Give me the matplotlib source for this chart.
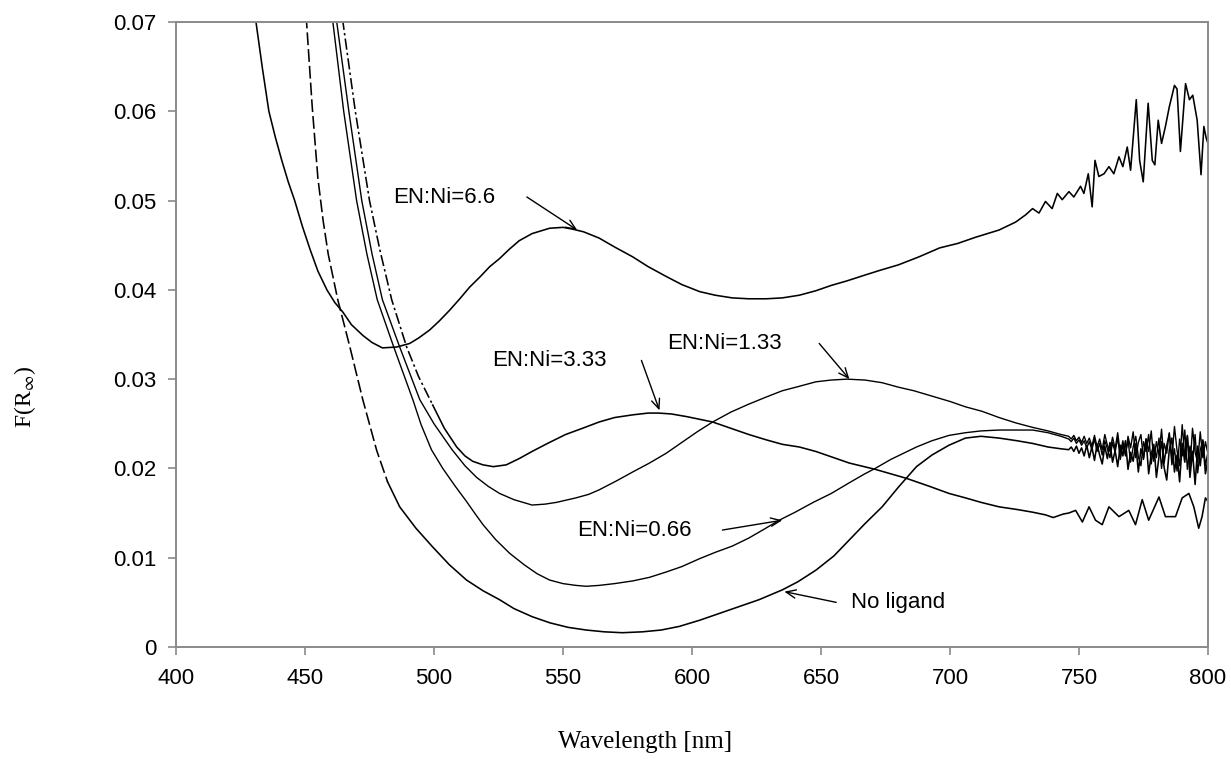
import numpy as np
import matplotlib
matplotlib.use("Agg")
import matplotlib.pyplot as plt

plt.rcParams['font.family'] = ['Liberation Sans', 'DejaVu Sans']
plt.rcParams['mathtext.fontset'] = 'stix'

# Kubelka-Munk spectra, F(R_inf) vs wavelength [nm]
wl_66 = [425, 431, 433.5, 436, 438.5, 441, 443.5, 446, 449, 452, 455, 458.5, 461.5, 464.7, 468,
         472.4, 476, 480, 485.6, 490.6, 494,
         498.3, 502, 506, 510, 513.8, 518, 521.6, 525.4, 529, 533, 538, 544.8, 550, 553.7, 558,
         564, 570, 577, 583, 590, 596, 603, 609, 615.6, 622, 628.8, 635, 641.6, 648, 654, 660,
         667.5, 673, 680, 688, 696, 703, 710, 719, 725.5, 729.3, 732, 734.5, 737, 739.6, 741.6,
         743.5, 746.1, 748, 750.6, 751.9, 753.6, 755.1, 756.2, 757.7, 759.7, 761.6, 763.5, 765.5,
         767, 768.7, 770, 772.2, 773.5, 774.9, 776.8, 778.4, 779.4, 780.7, 782, 783.5, 785, 787,
         788, 789.3, 791.3, 792.8, 794.1, 795.8, 797.3, 798.4, 799.3, 800]
f_66 = [0.080, 0.070, 0.0648, 0.060, 0.0571, 0.0545, 0.0521, 0.050, 0.0471, 0.0445, 0.0421,
        0.0400, 0.0386, 0.0375, 0.0361, 0.0349, 0.0341, 0.0335,
        0.0336, 0.0340, 0.0346, 0.0355, 0.0365, 0.0377, 0.0390, 0.0403, 0.0415, 0.0426, 0.0435,
        0.0445, 0.0455, 0.0463, 0.0469, 0.0470, 0.0468, 0.0465, 0.0458, 0.0448, 0.0437, 0.0426,
        0.0415, 0.0406, 0.0398, 0.0394, 0.0391, 0.0390, 0.0390, 0.0391, 0.0394, 0.0399, 0.0405,
        0.0410, 0.0417, 0.0422, 0.0428, 0.0437, 0.0447, 0.0452, 0.0459, 0.0467, 0.0476, 0.0484,
        0.0491, 0.0486, 0.0499, 0.0491, 0.0508, 0.0501, 0.0510, 0.0504, 0.0516, 0.0508, 0.0530,
        0.0493, 0.0545, 0.0527, 0.0530, 0.0538, 0.0530, 0.0549, 0.0538, 0.0560, 0.0534, 0.0613,
        0.0545, 0.0521, 0.0609, 0.0545, 0.0540, 0.0590, 0.0564, 0.0583, 0.0605, 0.0629, 0.0625,
        0.0555, 0.0631, 0.0613, 0.0618, 0.0590, 0.0529, 0.0583, 0.0570, 0.0564]

wl_333 = [460, 464.7, 469.5, 475, 479, 483.6, 489.4, 494, 499.5, 504, 508.8, 512, 515, 519, 523,
          528, 533, 538, 544, 551, 557.6, 564, 570, 577, 583, 587, 592, 598, 603, 608, 615, 622,
          628.8, 635, 641.6, 648, 654, 661, 671, 683, 692, 699.6, 706, 712, 719, 726, 732, 737,
          740, 744, 746, 748.7, 751.3, 753.9, 756.4, 759, 761.6, 765.5, 769.3, 771.9, 774.5, 777,
          781, 783.5, 787.4, 790, 792.6, 794.5, 796.4, 797.7, 799, 800]
f_333 = [0.080, 0.070, 0.060, 0.050, 0.0445, 0.0389, 0.0336, 0.0303, 0.0271, 0.0245, 0.0224,
         0.0214, 0.0208, 0.0204, 0.0202, 0.0204, 0.0211, 0.0219, 0.0228, 0.0238, 0.0245, 0.0252,
         0.0257, 0.0260, 0.0262, 0.0262, 0.0261, 0.0258, 0.0255, 0.0252, 0.0245, 0.0238, 0.0232,
         0.0227, 0.0224, 0.0219, 0.0213, 0.0206, 0.0199, 0.0189, 0.0180, 0.0172, 0.0167, 0.0162,
         0.0157, 0.0154, 0.0151, 0.0148, 0.0145, 0.0149, 0.0150, 0.0153, 0.0140, 0.0157, 0.0142,
         0.0137, 0.0157, 0.0146, 0.0153, 0.0137, 0.0165, 0.0142, 0.0168, 0.0146, 0.0146, 0.0167,
         0.0172, 0.0157, 0.0133, 0.0146, 0.0167, 0.0163]

# 1 nm grid for the noisy red end of the three lowest ratios
wl_tail = list(range(746, 801))

wl_133 = [458, 462.3, 467, 472, 476, 480, 486.7, 494.5, 500, 507, 512, 516.5, 521, 525.4, 531,
          538, 543, 547.5, 555, 560, 564, 570.7, 577, 583.5, 590, 596, 602, 608, 615, 622, 628.8,
          635, 641.6, 648, 654, 660, 667, 673.7, 680, 686, 693, 700, 706, 712.4, 719, 725.5, 732,
          738, 743]
f_133 = [0.080, 0.070, 0.060, 0.050, 0.044, 0.0389, 0.0336, 0.0277, 0.0250, 0.0221, 0.0203,
         0.0190, 0.0180, 0.0172, 0.0165, 0.0159, 0.0160, 0.0162, 0.0167, 0.0171, 0.0176, 0.0186,
         0.0196, 0.0206, 0.0217, 0.0229, 0.0241, 0.0252, 0.0263, 0.0272, 0.0280, 0.0287, 0.0292,
         0.0297, 0.0299, 0.0300, 0.0299, 0.0296, 0.0291, 0.0287, 0.0281, 0.0275, 0.0269, 0.0264,
         0.0257, 0.0251, 0.0246, 0.0242, 0.0238]
f_133_tail = [0.0236, 0.0233, 0.0237, 0.0231, 0.0235, 0.0229, 0.0236, 0.0228, 0.0234, 0.0225,
              0.0237, 0.0224, 0.0233, 0.0221, 0.0238, 0.0226, 0.0219, 0.0235, 0.0222, 0.0240,
              0.0217, 0.0231, 0.0214, 0.0236, 0.0223, 0.0241, 0.0212, 0.0229, 0.0238, 0.0210,
              0.0233, 0.0219, 0.0242, 0.0208, 0.0230, 0.0215, 0.0244, 0.0206, 0.0226, 0.0239,
              0.0211, 0.0247, 0.0220, 0.0203, 0.0249, 0.0213, 0.0236, 0.0201, 0.0245, 0.0218,
              0.0207, 0.0241, 0.0212, 0.0230, 0.0216]

wl_066 = [456, 460.8, 465, 470, 474, 478, 484.4, 491.8, 495, 499, 503.4, 508, 512.6, 516, 519,
          524, 529.3, 535, 540, 544.8, 550, 555, 559, 564, 570, 577, 583.5, 590, 596, 603, 609,
          615.6, 622, 628, 633.8, 640, 647, 654, 661, 667, 671, 677, 682, 687, 693, 699.6, 706,
          712, 719, 726, 732, 738, 743]
f_066 = [0.080, 0.070, 0.060, 0.050, 0.044, 0.0389, 0.0336, 0.0277, 0.0249, 0.0221, 0.0200,
         0.0181, 0.0163, 0.0149, 0.0137, 0.0120, 0.0105, 0.0092, 0.0082, 0.0075, 0.0071, 0.0069,
         0.0068, 0.0069, 0.0071, 0.0074, 0.0078, 0.0084, 0.0090, 0.0099, 0.0106, 0.0113, 0.0122,
         0.0132, 0.0142, 0.0151, 0.0162, 0.0172, 0.0184, 0.0194, 0.0200, 0.0210, 0.0217, 0.0224,
         0.0231, 0.0237, 0.0240, 0.0242, 0.0243, 0.0243, 0.0243, 0.0240, 0.0236]
f_066_tail = [0.0233, 0.0230, 0.0234, 0.0228, 0.0232, 0.0226, 0.0231, 0.0223, 0.0230, 0.0221,
              0.0233, 0.0219, 0.0228, 0.0215, 0.0231, 0.0222, 0.0212, 0.0229, 0.0218, 0.0235,
              0.0210, 0.0226, 0.0216, 0.0232, 0.0207, 0.0224, 0.0236, 0.0213, 0.0203, 0.0230,
              0.0219, 0.0238, 0.0205, 0.0224, 0.0212, 0.0234, 0.0200, 0.0228, 0.0217, 0.0240,
              0.0204, 0.0222, 0.0197, 0.0233, 0.0214, 0.0243, 0.0199, 0.0225, 0.0209, 0.0238,
              0.0195, 0.0221, 0.0231, 0.0203, 0.0219]

wl_0 = [448, 450.6, 452.8, 455, 457, 459, 462.7, 467.4, 472.4, 477.8, 482, 486.7, 493, 499.5,
        506, 512.6, 519, 525.4, 531, 538, 545, 552, 559, 566, 573, 580.8, 588, 595, 603, 610,
        618, 626, 635, 641, 648, 655, 661, 667, 673.7, 680, 687, 693, 699.6, 706, 712, 719, 726,
        732, 738, 743]
f_0 = [0.077, 0.070, 0.0605, 0.0525, 0.0478, 0.0440, 0.0389, 0.0336, 0.0277, 0.0220, 0.0185,
       0.0157, 0.0133, 0.0112, 0.0092, 0.0075, 0.0063, 0.0053, 0.0043, 0.0034, 0.0027, 0.0022,
       0.0019, 0.0017, 0.0016, 0.0017, 0.0019, 0.0023, 0.0030, 0.0037, 0.0045, 0.0053, 0.0064,
       0.0073, 0.0086, 0.0102, 0.0120, 0.0138, 0.0157, 0.0179, 0.0202, 0.0215, 0.0226, 0.0234,
       0.0236, 0.0234, 0.0231, 0.0228, 0.0224, 0.0222]
f_0_tail = [0.0221, 0.0224, 0.0219, 0.0225, 0.0217, 0.0223, 0.0214, 0.0226, 0.0212, 0.0224,
            0.0209, 0.0227, 0.0215, 0.0205, 0.0225, 0.0211, 0.0229, 0.0207, 0.0220, 0.0202,
            0.0226, 0.0214, 0.0231, 0.0199, 0.0218, 0.0208, 0.0228, 0.0196, 0.0222, 0.0212,
            0.0233, 0.0194, 0.0216, 0.0227, 0.0190, 0.0213, 0.0230, 0.0201, 0.0187, 0.0221,
            0.0234, 0.0196, 0.0215, 0.0185, 0.0228, 0.0207, 0.0237, 0.0190, 0.0219, 0.0182,
            0.0225, 0.0203, 0.0232, 0.0194, 0.0210]


def draw(ax, x, y, top_style=None, split=None, lw=1.15):
    x = np.asarray(x, float)
    y = np.asarray(y, float)
    if top_style is None:
        ax.plot(x, y, color='black', lw=lw)
        return
    # steep start drawn with its own dash pattern, rest solid
    i = np.searchsorted(x, split)
    ax.plot(x[:i + 1], y[:i + 1], color='black', lw=lw, linestyle=top_style)
    ax.plot(x[i:], y[i:], color='black', lw=lw)


fig = plt.figure(figsize=(12.31, 7.60), dpi=100)
ax = fig.add_axes([176 / 1231, 113 / 760, 1032 / 1231, 625 / 760])

draw(ax, wl_66, f_66)
draw(ax, wl_333, f_333, top_style=(0, (7, 2, 1.5, 2)), split=495)
draw(ax, wl_133 + wl_tail, f_133 + f_133_tail, lw=1.0)
draw(ax, wl_066 + wl_tail, f_066 + f_066_tail, lw=1.0)
draw(ax, wl_0 + wl_tail, f_0 + f_0_tail, top_style=(0, (8, 2.5)), split=480)

ax.set_xlim(400, 800)
ax.set_ylim(0, 0.07)
ax.set_xticks(np.arange(400, 801, 50))
ax.set_yticks(np.arange(0, 0.0701, 0.01))
ax.set_yticklabels(['0', '0.01', '0.02', '0.03', '0.04', '0.05', '0.06', '0.07'])

for s in ax.spines.values():
    s.set_color('#8a8a8a')
    s.set_linewidth(1.4)
ax.tick_params(direction='out', length=6, width=1.2, color='#8a8a8a',
               labelsize=16, labelcolor='black')
ax.tick_params(axis='x', pad=9)
ax.tick_params(axis='y', pad=8)

fig.text(25 / 1231, 1 - 397 / 760, r'F(R$_{\infty}$)', rotation=90, ha='center', va='center',
         fontsize=17, family=['Liberation Serif'])
fig.text(645 / 1231, 1 - 742 / 760, 'Wavelength [nm]', ha='center', va='center',
         fontsize=18, family=['Liberation Serif'])

arrow = dict(arrowstyle='->,head_length=0.7,head_width=0.3', color='black', lw=1.0,
             shrinkA=0, shrinkB=0)
labels = [
    ('EN:Ni=6.6', (484.0, 0.0503), 'left', (536.0, 0.0504), (555.5, 0.0467)),
    ('EN:Ni=3.33', (566.9, 0.0321), 'right', (580.4, 0.0321), (587.4, 0.0265)),
    ('EN:Ni=1.33', (590.5, 0.0340), 'left', (649.3, 0.0340), (661.0, 0.0300)),
    ('EN:Ni=0.66', (599.8, 0.0131), 'right', (611.8, 0.0131), (635.0, 0.0142)),
    ('No ligand', (661.7, 0.0050), 'left', (655.9, 0.0050), (635.8, 0.0062)),
]
for txt, pos, ha, tail, head in labels:
    ax.text(pos[0], pos[1], txt, ha=ha, va='center', fontsize=16)
    ax.annotate('', xy=head, xytext=tail, arrowprops=arrow)

fig.savefig('out.png', dpi=100)
